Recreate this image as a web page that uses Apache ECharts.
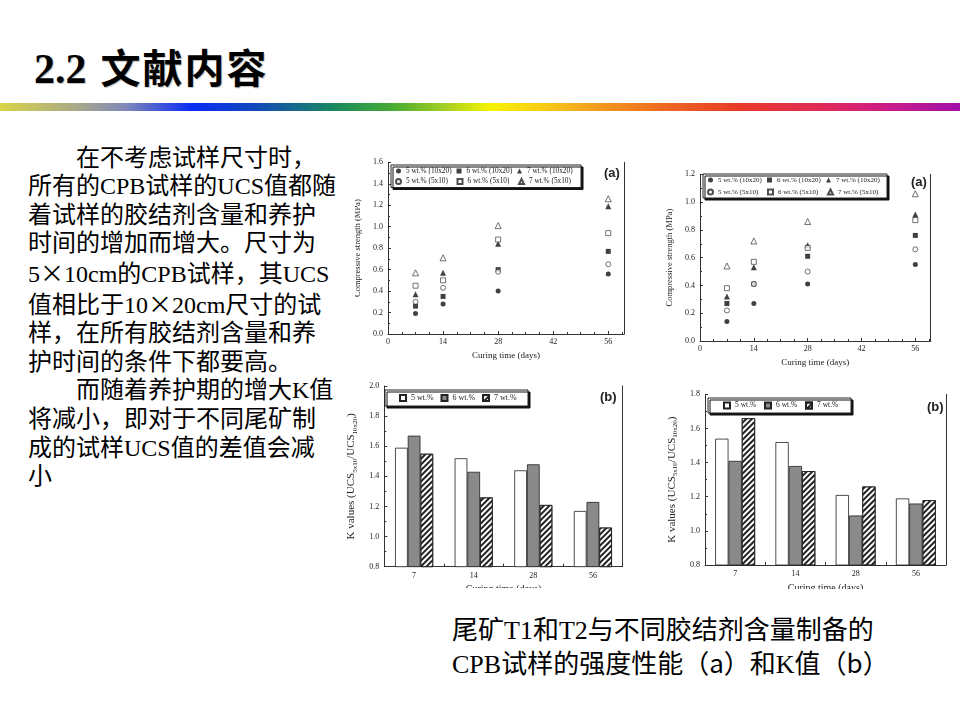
<!DOCTYPE html>
<html><head><meta charset="utf-8">
<script src="https://cdn.jsdelivr.net/npm/echarts@6/dist/echarts.min.js"></script>
<style>
body{margin:0;background:#fff;}
#page{position:relative;width:960px;height:720px;overflow:hidden;background:#fff;}
.title{position:absolute;left:34px;top:43px;height:46px;line-height:46px;white-space:nowrap;color:#000;text-shadow:1px 1px 1px #c0c0c0;}
.title .n{font-family:"Liberation Serif";font-weight:bold;font-size:42px;}
.title .c{font-family:"Noto Sans CJK SC";font-weight:700;font-size:40px;letter-spacing:2px;margin-left:14px;}
.rainbow{position:absolute;left:0;top:103px;width:960px;height:8px;
background:linear-gradient(to right,#d8d448 0%,#a8a888 8%,#8088b8 13%,#0a2cf4 20%,#1046c0 26%,#1a8a5c 35%,#48ac34 41%,#b0d420 47%,#f6f400 51%,#f8c818 57%,#f29420 63%,#ec6420 70%,#e83a28 77%,#e02a5a 86%,#c81a8c 93%,#a010a8 100%);}
.para{position:absolute;left:28px;top:143.7px;font-family:"Liberation Serif","Noto Sans CJK SC";font-size:24px;line-height:28.6px;color:#000;white-space:pre;}
.para .ind{padding-left:48px;}
.cap{position:absolute;left:452px;top:614.5px;font-family:"Liberation Serif","Noto Sans CJK SC";font-size:26px;line-height:31px;color:#000;white-space:pre;}
.cjk{font-family:"Noto Sans CJK SC";}
.chart{position:absolute;overflow:hidden;}
</style></head>
<body>
<div id="page">
  <div class="title"><span class="n">2.2</span><span class="c">文献内容</span></div>
  <div class="rainbow"></div>
  <div class="para"><div class="ind">在不考虑试样尺寸时，</div><div>所有的CPB试样的UCS值都随</div><div>着试样的胶结剂含量和养护</div><div>时间的增加而增大。尺寸为</div><div>5<span class="cjk">×</span>10cm的CPB试样，其UCS</div><div>值相比于10<span class="cjk">×</span>20cm尺寸的试</div><div>样，在所有胶结剂含量和养</div><div>护时间的条件下都要高。</div><div class="ind">而随着养护期的增大K值</div><div>将减小，即对于不同尾矿制</div><div>成的试样UCS值的差值会减</div><div>小</div></div>
  <div class="cap"><div>尾矿T1和T2与不同胶结剂含量制备的</div><div>CPB试样的强度性能（<span class="cjk">a</span>）和K值（<span class="cjk">b</span>）</div></div>
  <div id="cA" class="chart" style="left:355px;top:155px;width:285px;height:210px;"></div>
  <div id="cB" class="chart" style="left:660px;top:165px;width:290px;height:210px;"></div>
  <div id="cC" class="chart" style="left:345px;top:375px;width:290px;height:213px;"></div>
  <div id="cD" class="chart" style="left:660px;top:385px;width:290px;height:204px;"></div>
</div>
<script>
// ---- data ----
const curingDays = [7, 14, 28, 56];
const seriesNames = ['5 wt.% (10x20)', '6 wt.% (10x20)', '7 wt.% (10x20)', '5 wt.% (5x10)', '6 wt.% (5x10)', '7 wt.% (5x10)'];
// T1 (top-left)
const t1_5_10x20 = [0.19, 0.28, 0.40, 0.56];
const t1_6_10x20 = [0.26, 0.35, 0.60, 0.77];
const t1_7_10x20 = [0.37, 0.57, 0.84, 1.19];
const t1_5_5x10  = [0.30, 0.43, 0.58, 0.65];
const t1_6_5x10  = [0.45, 0.50, 0.88, 0.94];
const t1_7_5x10  = [0.57, 0.71, 1.01, 1.26];
// T2 (top-right)
const t2_5_10x20 = [0.14, 0.27, 0.41, 0.55];
const t2_6_10x20 = [0.27, 0.41, 0.61, 0.76];
const t2_7_10x20 = [0.32, 0.53, 0.69, 0.91];
const t2_5_5x10  = [0.22, 0.41, 0.50, 0.66];
const t2_6_5x10  = [0.38, 0.57, 0.67, 0.87];
const t2_7_5x10  = [0.54, 0.72, 0.86, 1.06];
// K values
const kCategories = ['7', '14', '28', '56'];
const kNames = ['5 wt.%', '6 wt.%', '7 wt.%'];
const k1_5 = [1.59, 1.52, 1.44, 1.17];
const k1_6 = [1.67, 1.43, 1.48, 1.23];
const k1_7 = [1.55, 1.26, 1.21, 1.06];
const k2_5 = [1.54, 1.52, 1.21, 1.19];
const k2_6 = [1.41, 1.38, 1.09, 1.16];
const k2_7 = [1.66, 1.35, 1.26, 1.18];

// ---- styles ----
const SERIF = 'Liberation Serif';
const INK = '#222';
const lineS = {color: '#333', width: 1};

function pairs(xs, ys) { return xs.map((x, i) => [x, ys[i]]); }

function scatterSeries(sets) {
  const syms = ['circle', 'rect', 'triangle', 'circle', 'rect', 'triangle'];
  return sets.map((vals, i) => {
    const open = i >= 3;
    return {
      type: 'scatter', name: seriesNames[i], symbol: syms[i],
      symbolSize: syms[i] === 'triangle' ? 6 : 5,
      data: pairs(curingDays, vals),
      itemStyle: open ? {color: '#fff', borderColor: INK, borderWidth: 0.8} : {color: '#111', borderWidth: 0},
      emphasis: {disabled: true}
    };
  });
}

function rightAxis(min, max) {
  return {type: 'value', position: 'right', min, max, axisLine: {show: true, lineStyle: lineS},
    axisTick: {show: false}, axisLabel: {show: false}, splitLine: {show: false}};
}

function legendBase(names, iconSize, textW, fontSize) {
  return {
    orient: 'horizontal', itemWidth: iconSize, itemHeight: iconSize,
    backgroundColor: '#fff', borderColor: INK, borderWidth: 1,
    shadowColor: '#111', shadowBlur: 0, shadowOffsetX: 2, shadowOffsetY: 2,
    data: names,
    formatter: n => '{t|' + n + '}',
    textStyle: {fontFamily: SERIF, fontSize: fontSize, color: INK, lineHeight: 8,
      rich: {t: {width: textW, fontSize: fontSize, lineHeight: 8, fontFamily: SERIF, color: INK}}}
  };
}

function scatterOption(cfg, sets) {
  return {
    animation: false,
    textStyle: {fontFamily: SERIF},
    title: {text: '(a)', left: cfg.tagL, top: cfg.tagT, padding: 0,
      textStyle: {fontFamily: 'Liberation Sans', fontWeight: 'bold', fontSize: 13, color: INK}},
    legend: Object.assign(legendBase(seriesNames, 5, cfg.textW, cfg.fontSize), cfg.legend),
    grid: Object.assign({outerBoundsMode: 'none', containLabel: false}, cfg.grid),
    xAxis: {
      type: 'value', min: 0, max: 60, interval: 14,
      name: 'Curing time (days)', nameLocation: 'middle', nameGap: cfg.xNameGap,
      nameTextStyle: {fontSize: 9, color: INK, fontFamily: SERIF},
      axisLine: {show: true, lineStyle: lineS},
      axisTick: {show: true, inside: true, length: 3, lineStyle: lineS},
      minorTick: {show: true, splitNumber: 4, length: 2, lineStyle: lineS},
      axisLabel: {fontSize: 8, color: INK, margin: 4, fontFamily: SERIF, showMaxLabel: false,
        formatter: v => (v % 14 === 0 ? String(v) : '')},
      splitLine: {show: false}, minorSplitLine: {show: false}
    },
    yAxis: [{
      type: 'value', min: 0, max: cfg.yMax, interval: 0.2,
      name: 'Compressive strength (MPa)', nameLocation: 'middle', nameGap: cfg.yNameGap,
      nameTextStyle: {fontSize: 8.5, color: INK, fontFamily: SERIF},
      axisLine: {show: true, lineStyle: lineS},
      axisTick: {show: true, inside: true, length: 3, lineStyle: lineS},
      minorTick: {show: true, splitNumber: 2, length: 2, lineStyle: lineS},
      axisLabel: {fontSize: 8, color: INK, margin: 5, fontFamily: SERIF, formatter: v => v.toFixed(1)},
      splitLine: {show: false}, minorSplitLine: {show: false}
    }, rightAxis(0, cfg.yMax)],
    series: scatterSeries(sets)
  };
}

function barOption(cfg, sets) {
  const styles = [
    {color: '#fff', borderColor: INK, borderWidth: 0.8},
    {color: '#8a8a8a', borderColor: INK, borderWidth: 0.8},
    {color: '#fff', borderColor: INK, borderWidth: 0.8,
      decal: {symbol: 'rect', symbolSize: 1, dashArrayX: [[1, 0]], dashArrayY: [1.6, 1.1], rotation: -Math.PI / 4, color: '#222'}}
  ];
  return {
    animation: false,
    textStyle: {fontFamily: SERIF},
    title: {text: '(b)', left: cfg.tagL, top: cfg.tagT, padding: 0,
      textStyle: {fontFamily: 'Liberation Sans', fontWeight: 'bold', fontSize: 13, color: INK}},
    legend: Object.assign(legendBase(kNames, 6, cfg.textW, cfg.fontSize), {icon: 'rect'}, cfg.legend),
    grid: Object.assign({outerBoundsMode: 'none', containLabel: false}, cfg.grid),
    xAxis: {
      type: 'category', data: kCategories, boundaryGap: true,
      name: 'Curing time (days)', nameLocation: 'middle', nameGap: cfg.xNameGap,
      nameTextStyle: {fontSize: 10, color: INK, fontFamily: SERIF},
      axisLine: {show: true, lineStyle: lineS},
      axisTick: {show: true, inside: true, length: 3, alignWithLabel: false, lineStyle: lineS},
      axisLabel: {fontSize: 8, color: INK, margin: 5, fontFamily: SERIF},
      splitLine: {show: false}
    },
    yAxis: [{
      type: 'value', min: 0.8, max: cfg.yMax, interval: 0.2,
      name: 'K values (UCS{s|5x10}/UCS{s|10x20})', nameLocation: 'middle', nameGap: cfg.yNameGap,
      nameTextStyle: {fontSize: 11, lineHeight: 14, color: INK, fontFamily: SERIF,
        rich: {s: {fontSize: 7, lineHeight: 7, verticalAlign: 'bottom', color: INK, fontFamily: SERIF}}},
      axisLine: {show: true, lineStyle: lineS},
      axisTick: {show: true, inside: true, length: 3, lineStyle: lineS},
      minorTick: {show: true, splitNumber: 2, length: 2, lineStyle: lineS},
      axisLabel: {fontSize: 8, color: INK, margin: 5, fontFamily: SERIF, formatter: v => v.toFixed(1)},
      splitLine: {show: false}, minorSplitLine: {show: false}
    }, rightAxis(0.8, cfg.yMax)],
    series: sets.map((vals, i) => ({
      type: 'bar', name: kNames[i], data: vals, barWidth: cfg.barW, barGap: '0%',
      itemStyle: styles[i], emphasis: {disabled: true}
    }))
  };
}

const chartA = echarts.init(document.getElementById('cA'));
chartA.setOption(scatterOption({
  tagL: 249, tagT: 12, yMax: 1.6, xNameGap: 17, yNameGap: 17, textW: 48, fontSize: 7.3,
  grid: {left: 33, top: 7.3, width: 236, height: 171.7},
  legend: {left: 36, top: 10, width: 205, padding: [2, 4, 2, 4], itemGap: 2.5}
}, [t1_5_10x20, t1_6_10x20, t1_7_10x20, t1_5_5x10, t1_6_5x10, t1_7_5x10]));

const chartB = echarts.init(document.getElementById('cB'));
chartB.setOption(scatterOption({
  tagL: 251, tagT: 11, yMax: 1.2, xNameGap: 16, yNameGap: 21, textW: 45, fontSize: 7,
  grid: {left: 40, top: 9.3, width: 230.7, height: 166.7},
  legend: {left: 43, top: 9, width: 200, padding: [2, 4, 2, 4], itemGap: 4}
}, [t2_5_10x20, t2_6_10x20, t2_7_10x20, t2_5_5x10, t2_6_5x10, t2_7_5x10]));

const chartC = echarts.init(document.getElementById('cC'));
chartC.setOption(barOption({
  tagL: 255, tagT: 16, yMax: 2.0, xNameGap: 17, yNameGap: 21, barW: 12.7, textW: 23, fontSize: 8,
  grid: {left: 39.3, top: 11, width: 238.4, height: 180.7},
  legend: {left: 40, top: 15, padding: [4, 11, 4, 14], itemGap: 6.5}
}, [k1_5, k1_6, k1_7]));

const chartD = echarts.init(document.getElementById('cD'));
chartD.setOption(barOption({
  tagL: 267, tagT: 16, yMax: 1.8, xNameGap: 16, yNameGap: 21, barW: 13.3, textW: 22, fontSize: 7.5,
  grid: {left: 45, top: 9.3, width: 241, height: 170.7},
  legend: {left: 48, top: 13, padding: [3.5, 12, 3.5, 15], itemGap: 7}
}, [k2_5, k2_6, k2_7]));
</script>
</body></html>
